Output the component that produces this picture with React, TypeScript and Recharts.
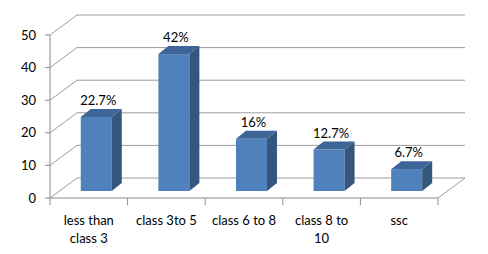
import React from "react"
import {
  BarChart,
  Bar,
  XAxis,
  YAxis,
  CartesianGrid,
  LabelList,
} from "recharts"

const categories = ["less than class 3", "class 3to 5", "class 6 to 8", "class 8 to 10", "ssc"]
const categoryLines = [["less than", "class 3"], ["class 3to 5"], ["class 6 to 8"], ["class 8 to", "10"], ["ssc"]]
const percents = [22.7, 42, 16, 12.7, 6.7]
const yTicks = [0, 10, 20, 30, 40, 50]

const data = categories.map((name, i) => ({ name, value: percents[i] }))

const W = 488
const H = 254
const PLOT_LEFT = 50
const PLOT_RIGHT = 438
const HALF_BAND = (PLOT_RIGHT - PLOT_LEFT) / categories.length / 2

// fake 3D: back wall offset, bar offset, bar depth
const WALL_DX = 27
const WALL_DY = -20
const BAR_DX = 7.5
const BAR_DY = -7
const DEPTH_X = 10
const DEPTH_Y = 8

const FONT = "Lato, 'Open Sans', sans-serif"
const FS = 13
const GRID = "#9c9c9c"
const AXIS = "#8a8a8a"

function Bar3D(props: any) {
  const { x, y, width, height } = props
  const fx = x + BAR_DX
  const fy = y + BAR_DY
  const r = fx + width
  const b = fy + height
  return (
    <g>
      <rect x={fx} y={fy} width={width} height={height} fill="#4f81bd" />
      <polygon
        points={`${r},${fy} ${r + DEPTH_X},${fy - DEPTH_Y} ${r + DEPTH_X},${b - DEPTH_Y} ${r},${b}`}
        fill="#34567f"
      />
      <polygon
        points={`${fx},${fy} ${fx + DEPTH_X},${fy - DEPTH_Y} ${r + DEPTH_X},${fy - DEPTH_Y} ${r},${fy}`}
        fill="#3d6598"
      />
    </g>
  )
}

function ValueLabel(props: any) {
  const { x, y, width, value } = props
  return (
    <text
      x={x + width / 2 + BAR_DX + 2}
      y={y + BAR_DY - 12}
      textAnchor="middle"
      fontFamily={FONT}
      fontSize={FS}
      fill="#000"
    >
      {value}%
    </text>
  )
}

function GridLine(props: any) {
  const { x1, x2, y1, index } = props
  const by = y1 + WALL_DY
  return (
    <g key={`g-${index}`}>
      <line x1={x1} y1={y1} x2={x1 + WALL_DX} y2={by} stroke={GRID} />
      <line x1={x1 + WALL_DX} y1={by} x2={x2 + WALL_DX} y2={by} stroke={GRID} />
      {index === 0 && y1 > 150 ? (
        <line x1={x2} y1={y1} x2={x2 + WALL_DX} y2={by} stroke={GRID} />
      ) : null}
    </g>
  )
}

function CategoryTick(props: any) {
  const { x, y, index } = props
  const lines = categoryLines[index] || []
  return (
    <g>
      <line x1={x + HALF_BAND} y1={y - 8} x2={x + HALF_BAND} y2={y - 1} stroke={AXIS} />
      {index === 0 ? <line x1={x - HALF_BAND} y1={y - 8} x2={x - HALF_BAND} y2={y - 1} stroke={AXIS} /> : null}
      {lines.map((t: string, i: number) => (
        <text
          key={i}
          x={x}
          y={y + 19 + i * 18}
          textAnchor="middle"
          fontFamily={FONT}
          fontSize={FS}
          fill="#000"
        >
          {t}
        </text>
      ))}
    </g>
  )
}

export default function App() {
  return (
    <div style={{ position: "absolute", left: 0, top: 0, background: "#fff" }}>
      <BarChart
        width={W}
        height={H}
        data={data}
        margin={{ top: 35, right: W - PLOT_RIGHT, bottom: 6, left: 10 }}
        barCategoryGap="30%"
      >
        <CartesianGrid vertical={false} horizontal={(p: any) => <GridLine {...p} />} />
        <XAxis
          dataKey="name"
          interval={0}
          height={50}
          tickLine={false}
          axisLine={{ stroke: AXIS }}
          tick={<CategoryTick />}
        />
        <YAxis
          domain={[0, 50]}
          ticks={yTicks}
          width={40}
          tickSize={5}
          tickMargin={9}
          axisLine={{ stroke: AXIS }}
          tickLine={{ stroke: AXIS }}
          tick={{ fill: "#000", fontSize: FS, fontFamily: FONT }}
        />
        <Bar dataKey="value" shape={<Bar3D />} isAnimationActive={false}>
          <LabelList dataKey="value" content={<ValueLabel />} />
        </Bar>
      </BarChart>
    </div>
  )
}
